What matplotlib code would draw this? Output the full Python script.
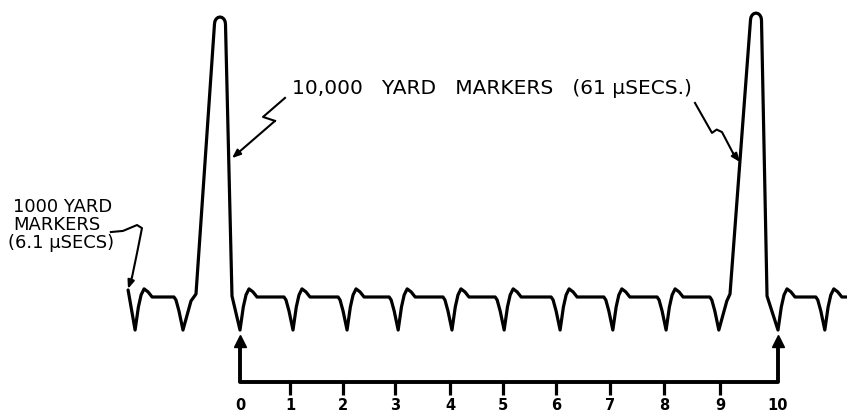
import numpy as np
import matplotlib
matplotlib.use("Agg")
import matplotlib.pyplot as plt

# ---------------- data (x: 1000-yard marker units, y: relative amplitude) ----------------
marker_positions = [-1.95, -1.06, 0.0, 0.985, 1.99, 2.94, 3.94, 4.91,
                    5.95, 6.93, 7.92, 8.90, 10.0, 10.87]
marker_dip = -0.118
marker_overshoot = 0.029
baseline = 0.0

pulse_starts = [-0.818, 9.108]
pulse_peak_x = [-0.372, 9.591]
pulse_ends = [-0.149, 9.796]
pulse_heights = [1.0, 1.014]

trace_start = (-2.08, 0.025)
trace_end_x = 11.3

scale_ticks = [0.0, 0.929, 1.914, 2.881, 3.903, 4.888, 5.874, 6.877, 7.881, 8.922, 10.0]
scale_labels = ["0", "1", "2", "3", "4", "5", "6", "7", "8", "9", "10"]

label_big = "10,000   YARD   MARKERS   (61 \u03bcSECS.)"
label_small = ["1000 YARD", "MARKERS", "(6.1 \u03bcSECS)"]

# ---------------- layout ----------------
W, H, DPI = 847, 416, 100
PXU_X = 53.8     # pixels per marker unit
PXU_Y = 280.0    # pixels per amplitude unit
X0_PX, Y0_PX = 240, 297

def px(d):
    return d / PXU_X

def py(d):
    return d / PXU_Y

fig = plt.figure(figsize=(W / DPI, H / DPI), dpi=DPI)
ax = fig.add_axes([0, 0, 1, 1])
ax.set_xlim(-X0_PX / PXU_X, (W - X0_PX) / PXU_X)
ax.set_ylim(-(H - Y0_PX) / PXU_Y, Y0_PX / PXU_Y)
ax.axis("off")

# ---------------- build trace ----------------
FALL = [(-9, 0), (-7, -3), (-4, -14), (-1.5, -26)]
RISE = [(3.3, -10), (6, 2), (9, 8), (13, 5), (17, 0)]

xs = [trace_start[0]]
ys = [trace_start[1]]
from_pulse = True
for i, xd in enumerate(marker_positions):
    if not from_pulse:
        for dx, dy in FALL:
            xs.append(xd + px(dx)); ys.append(baseline + py(dy))
    xs.append(xd); ys.append(marker_dip)
    nxt = marker_positions[i + 1] if i + 1 < len(marker_positions) else 1e9
    pk = [k for k, s in enumerate(pulse_starts) if xd < s < nxt]
    if pk:
        k = pk[0]
        xs.append(xd + px(8)); ys.append(baseline - py(4))
        xs.append(pulse_starts[k]); ys.append(baseline + py(3))
        h = pulse_heights[k]
        cx = pulse_peak_x[k]
        for th in np.linspace(np.pi, 0, 9):
            xs.append(cx + px(5.5) * np.cos(th))
            ys.append(h - py(7) + py(7) * np.sin(th))
        xs.append(pulse_ends[k]); ys.append(baseline + py(1))
        from_pulse = True
    else:
        for dx, dy in RISE:
            if dy > 0:
                ys.append(baseline + marker_overshoot * dy / 8.0)
            else:
                ys.append(baseline + py(dy))
            xs.append(xd + px(dx))
        from_pulse = False
xs.append(trace_end_x); ys.append(baseline)

LW = 2.3
ax.plot(xs, ys, color="black", lw=LW, solid_joinstyle="round", solid_capstyle="round")

# ---------------- scale bracket ----------------
bar_y = -0.304
tick_bottom = -0.350
arrow_y = -0.158
ax.plot([scale_ticks[0], scale_ticks[0], scale_ticks[-1], scale_ticks[-1]],
        [arrow_y, bar_y, bar_y, arrow_y], color="black", lw=2.8,
        solid_joinstyle="round")
ax.plot([scale_ticks[0], scale_ticks[-1]], [arrow_y, arrow_y], linestyle="none",
        marker="^", markersize=8, color="black")
ax.vlines(scale_ticks[1:-1], tick_bottom, bar_y, color="black", lw=2.3)
for t, lab in zip(scale_ticks, scale_labels):
    ax.text(t, -0.387, lab, ha="center", va="center", fontsize=10.5,
            fontweight="bold", color="black")

# ---------------- annotations ----------------
def leader(points):
    pts = np.array(points)
    ax.plot(pts[:-1, 0], pts[:-1, 1], color="black", lw=1.5,
            solid_joinstyle="round")
    ax.annotate("", xy=pts[-1], xytext=pts[-2],
                arrowprops=dict(arrowstyle="-|>,head_length=0.5,head_width=0.2",
                                color="black", lw=1.5, shrinkA=0, shrinkB=0))

leader([(0.836, 0.711), (0.428, 0.643), (0.651, 0.629), (-0.149, 0.496)])
leader([(8.457, 0.693), (8.773, 0.586), (8.86, 0.598), (8.959, 0.589),
        (9.164, 0.514), (9.294, 0.482)])
leader([(-2.40, 0.232), (-2.175, 0.236), (-1.914, 0.257), (-1.822, 0.246),
        (-1.914, 0.157), (-2.007, 0.071), (-2.082, 0.029)])

ax.text(0.967, 0.743, label_big, ha="left", va="center", fontsize=14.5,
        color="black")

small_y = [0.321, 0.257, 0.193]
small_x = [-4.219, -4.219, -4.31]
for s, xx, yy in zip(label_small, small_x, small_y):
    ax.text(xx, yy, s, ha="left", va="center", fontsize=13, color="black")

fig.savefig("out.png", dpi=DPI, facecolor="white")
